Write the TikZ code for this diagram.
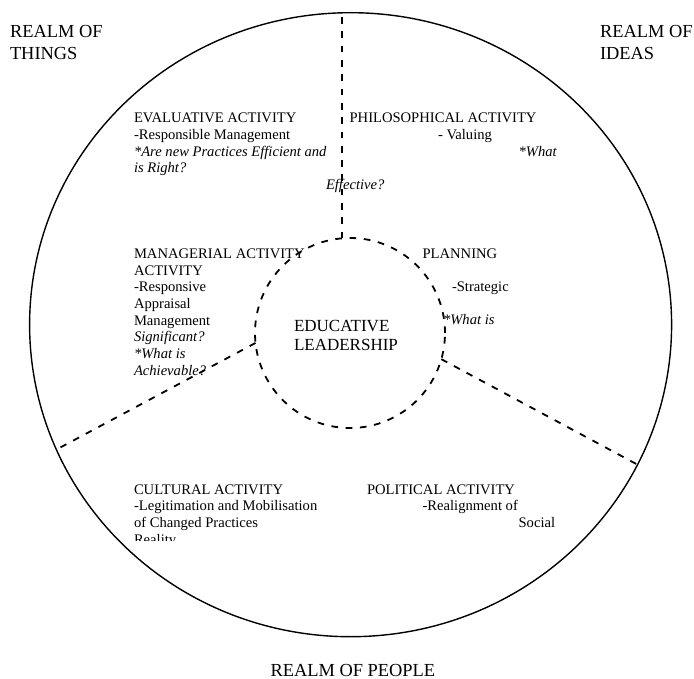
\documentclass[tikz,border=0pt]{standalone}
\usepackage{fontspec}
\setmainfont{Liberation Serif}
\usetikzlibrary{shapes.geometric,positioning}

\begin{document}
\begin{tikzpicture}[x=1pt,y=-1pt,inner sep=0pt,outer sep=0pt,
                    every node/.style={anchor=base west,align=left,
                      font=\fontsize{14.6}{16.7}\selectfont}]
  \tikzstyle{realm label}=[font=\fontsize{18.4}{22.5}\selectfont]
  \tikzstyle{divider}=[line width=1.8pt,dash pattern=on 6.7pt off 7.6pt]
  \useasboundingbox (0,0) rectangle (694,679);

  \node[ellipse,draw,line width=1.4pt,minimum width=642pt,minimum height=624pt,
        anchor=center] (realm) at (350.6,324.7) {};
  \node[circle,draw,divider,minimum size=190pt,anchor=center] (lead) at (350,333) {};

  \node[realm label] (things) at (10,59.8)   {REALM OF\\THINGS};
  \node[realm label] (ideas)  at (600,59.8)  {REALM OF\\IDEAS};
  \node[realm label] (people) at (270.5,676.5) {REALM OF PEOPLE};

  \node (eval)      at (134,172.8)   {EVALUATIVE ACTIVITY\\-Responsible Management\\
                                      \textit{*Are new Practices Efficient and}\\\textit{is Right?}};
  \node (effective) at (326,190)     {\textit{Effective?}};
  \node (phil)      at (349.6,122.7) {PHILOSOPHICAL ACTIVITY};
  \node (valuing)   at ([shift={(88.4,17.3)}]phil.base west)  {- Valuing};
  \node (whatPhil)  at ([shift={(80.6,17)}]valuing.base west) {\textit{*What}};

  \node (mgmt)      at (134,375.2)   {MANAGERIAL ACTIVITY\\ACTIVITY\\-Responsive\\Appraisal\\
                                      Management\\\textit{Significant?}\\\textit{*What is}\\
                                      \textit{Achievable?}};
  \node (plan)      at (422.6,258.3) {PLANNING};
  \node (strategic) at ([shift={(29.4,33.4)}]plan.base west)  {-Strategic};
  \node (whatPlan)  at ([shift={(20.4,66.7)}]plan.base west)  {\textit{*What is}};

  \node[font=\fontsize{17}{18.3}\selectfont] (edu) at (294,350) {EDUCATIVE\\LEADERSHIP};

  \begin{scope}
    \clip (0,0) rectangle (694,540);
    \node (cult)    at (134,544.1)   {CULTURAL ACTIVITY\\-Legitimation and Mobilisation\\
                                      of Changed Practices\\Reality};
  \end{scope}
  \node (pol)       at (367,494)     {POLITICAL ACTIVITY};
  \node (realign)   at ([shift={(55.6,16.7)}]pol.base west)   {-Realignment of};
  \node (social)    at ([shift={(96,16.6)}]realign.base west) {Social};

  \draw[divider] (lead.95)  -- (lead.95 |- realm.north);
  \draw[divider] (lead.186) -- (realm.203);
  \draw[divider] (lead.-16) -- (realm.-26);
\end{tikzpicture}
\end{document}
